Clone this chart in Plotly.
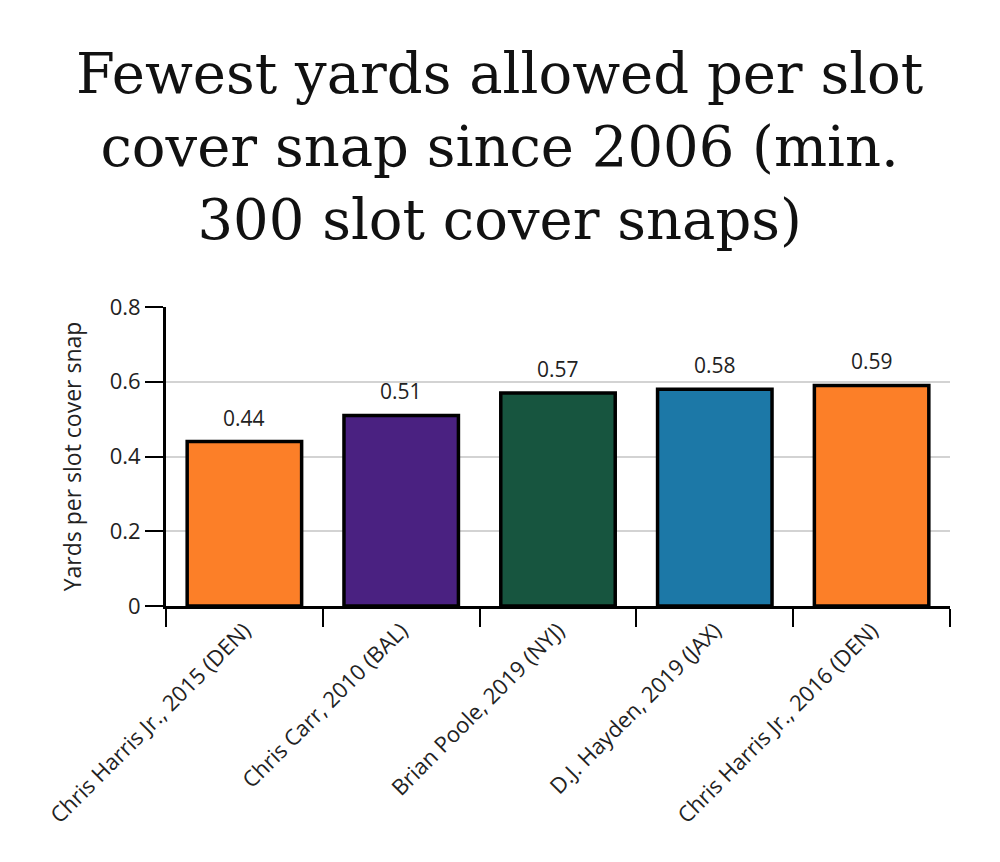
import plotly.graph_objects as go

players = [
    "Chris Harris Jr., 2015 (DEN)",
    "Chris Carr, 2010 (BAL)",
    "Brian Poole, 2019 (NYJ)",
    "D.J. Hayden, 2019 (JAX)",
    "Chris Harris Jr., 2016 (DEN)",
]
yards_per_snap = [0.44, 0.51, 0.57, 0.58, 0.59]
bar_colors = ["#FC7F28", "#4A2181", "#17553F", "#1C78A7", "#FC7F28"]
y_ticks = [0, 0.2, 0.4, 0.6, 0.8]
y_ticktext = ["0", "0.2", "0.4", "0.6", "0.8"]

title_text = "Fewest yards allowed per slot<br>cover snap since 2006 (min.<br>300 slot cover snaps)"

fig = go.Figure()
fig.add_trace(go.Bar(
    x=players,
    y=yards_per_snap,
    marker=dict(color=bar_colors, line=dict(color="#000000", width=3.5)),
    hoverinfo="x+y",
))

for p, v in zip(players, yards_per_snap):
    fig.add_annotation(x=p, y=v, text=f"{v:.2f}", showarrow=False,
                       yanchor="bottom", yshift=8,
                       font=dict(family="Open Sans", size=21, color="#222222"))

fig.add_annotation(xref="paper", yref="paper", x=0.426, y=1.538,
                   xanchor="center", yanchor="middle", showarrow=False,
                   text=title_text,
                   font=dict(family="DejaVu Serif", size=56, color="#111111"))

fig.update_layout(
    width=1000, height=862,
    margin=dict(l=166, r=50, t=307, b=256),
    paper_bgcolor="white", plot_bgcolor="white",
    bargap=0.27,
    showlegend=False,
    font=dict(family="Open Sans", size=22, color="#222222"),
)
fig.update_xaxes(
    showline=True, linecolor="#000000", linewidth=3,
    ticks="outside", tickson="boundaries", ticklen=18, tickwidth=2, tickcolor="#000000",
    tickangle=-45, tickfont=dict(family="Open Sans", size=22, color="#222222"),
    showgrid=False,
)
fig.update_yaxes(
    range=[0, 0.8], tickvals=y_ticks, ticktext=y_ticktext,
    showline=True, linecolor="#000000", linewidth=3,
    ticks="outside", ticklen=18, tickwidth=2, tickcolor="#000000",
    showgrid=True, gridcolor="#D3D3D3", gridwidth=1.5, zeroline=False,
    tickfont=dict(family="Open Sans", size=22, color="#222222"),
    title=dict(text="Yards per slot cover snap", standoff=22,
               font=dict(family="Open Sans", size=23, color="#222222")),
)

fig.write_html("out.html")
